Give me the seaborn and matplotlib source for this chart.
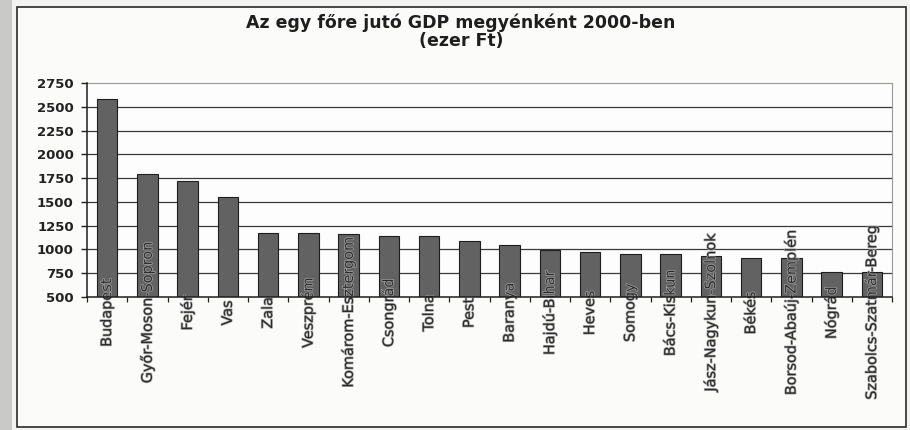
import numpy as np
import pandas as pd
import matplotlib
matplotlib.use("Agg")
import matplotlib.pyplot as plt
import matplotlib.patheffects as pe
from matplotlib.patches import Rectangle
import seaborn as sns

# Per-capita GDP by county, 2000 (thousand HUF)
counties = [
    "Budapest", "Győr-Moson-Sopron", "Fejér", "Vas", "Zala", "Veszprém",
    "Komárom-Esztergom", "Csongrád", "Tolna", "Pest", "Baranya",
    "Hajdú-Bihar", "Heves", "Somogy", "Bács-Kiskun", "Jász-Nagykun-Szolnok",
    "Békés", "Borsod-Abaúj-Zemplén", "Nógrád", "Szabolcs-Szatmár-Bereg",
]
gdp_per_capita = [
    2585, 1792, 1722, 1555, 1178, 1178,
    1160, 1146, 1146, 1086, 1051,
    991, 973, 949, 949, 928,
    914, 907, 762, 759,
]
y_ticks = [500, 750, 1000, 1250, 1500, 1750, 2000, 2250, 2500, 2750]

title_text = "Az egy főre jutó GDP megyénként 2000-ben\n(ezer Ft)"

df = pd.DataFrame({"megye": counties, "gdp": gdp_per_capita})

sns.set_theme(style="white")
plt.rcParams["font.family"] = ["DejaVu Sans"]

W, H = 910, 430
fig = plt.figure(figsize=(W / 100, H / 100), dpi=100, facecolor="#f3f3f1")

# page gutter on the left edge
fig.patches.append(Rectangle((0, 0), 12 / W, 1, transform=fig.transFigure,
                             facecolor="#c9c9c7", edgecolor="none", zorder=-3))
# chart frame
fig.patches.append(Rectangle((17 / W, 3 / H), 889 / W, 420 / H,
                             transform=fig.transFigure, facecolor="#fbfbfa",
                             edgecolor="#2a2a2a", linewidth=1.2, zorder=-2))

ax = fig.add_axes([87 / W, (H - 297) / H, (892 - 87) / W, (297 - 83) / H])
ax.set_facecolor("#fdfdfd")
ax.set_axisbelow(False)

sns.barplot(data=df, x="megye", y="gdp", order=counties, color="#626262",
            width=0.51, edgecolor="#1e1e1e", linewidth=0.8, saturation=1,
            ax=ax, zorder=2)

ax.set_ylim(500, 2750)
ax.set_xlim(-0.5, len(counties) - 0.5)
ax.set_yticks(y_ticks)
ax.set_yticklabels([str(v) for v in y_ticks], fontsize=9.5, fontweight="bold",
                   color="#222222")
for v in y_ticks[1:-1]:
    ax.axhline(v, color="#3a3a3a", linewidth=0.9, zorder=1)

ax.set_xlabel("")
ax.set_ylabel("")

ax.set_xticks(range(len(counties)))
ax.set_xticklabels(counties, rotation=90, va="center", ha="center",
                   fontsize=10.4, color="#2a2a2a")
halo = [pe.withStroke(linewidth=1.0, foreground="#a8a8a8")]
for lbl in ax.get_xticklabels():
    lbl.set_path_effects(halo)
ax.tick_params(axis="x", which="major", length=0, pad=11.5)
ax.set_xticks(np.arange(-0.5, len(counties)), minor=True)
ax.tick_params(axis="x", which="minor", length=3.5, width=0.9,
               color="#222222", direction="out", bottom=True)
ax.tick_params(axis="y", length=4, width=1, color="#222222",
               direction="out", left=True, pad=5.5)

for side in ("left", "bottom"):
    ax.spines[side].set_color("#1e1e1e")
    ax.spines[side].set_linewidth(1.1)
    ax.spines[side].set_zorder(5)
for side in ("top", "right"):
    ax.spines[side].set_color("#9a9a9a")
    ax.spines[side].set_linewidth(0.8)
    ax.spines[side].set_linestyle((0, (1, 1)))

fig.text(461 / W, 1 - 32 / H, title_text, ha="center", va="center",
         fontsize=12.5, fontweight="bold", color="#1e1e1e", linespacing=1.0)

fig.savefig("out.png", dpi=100, facecolor=fig.get_facecolor())
